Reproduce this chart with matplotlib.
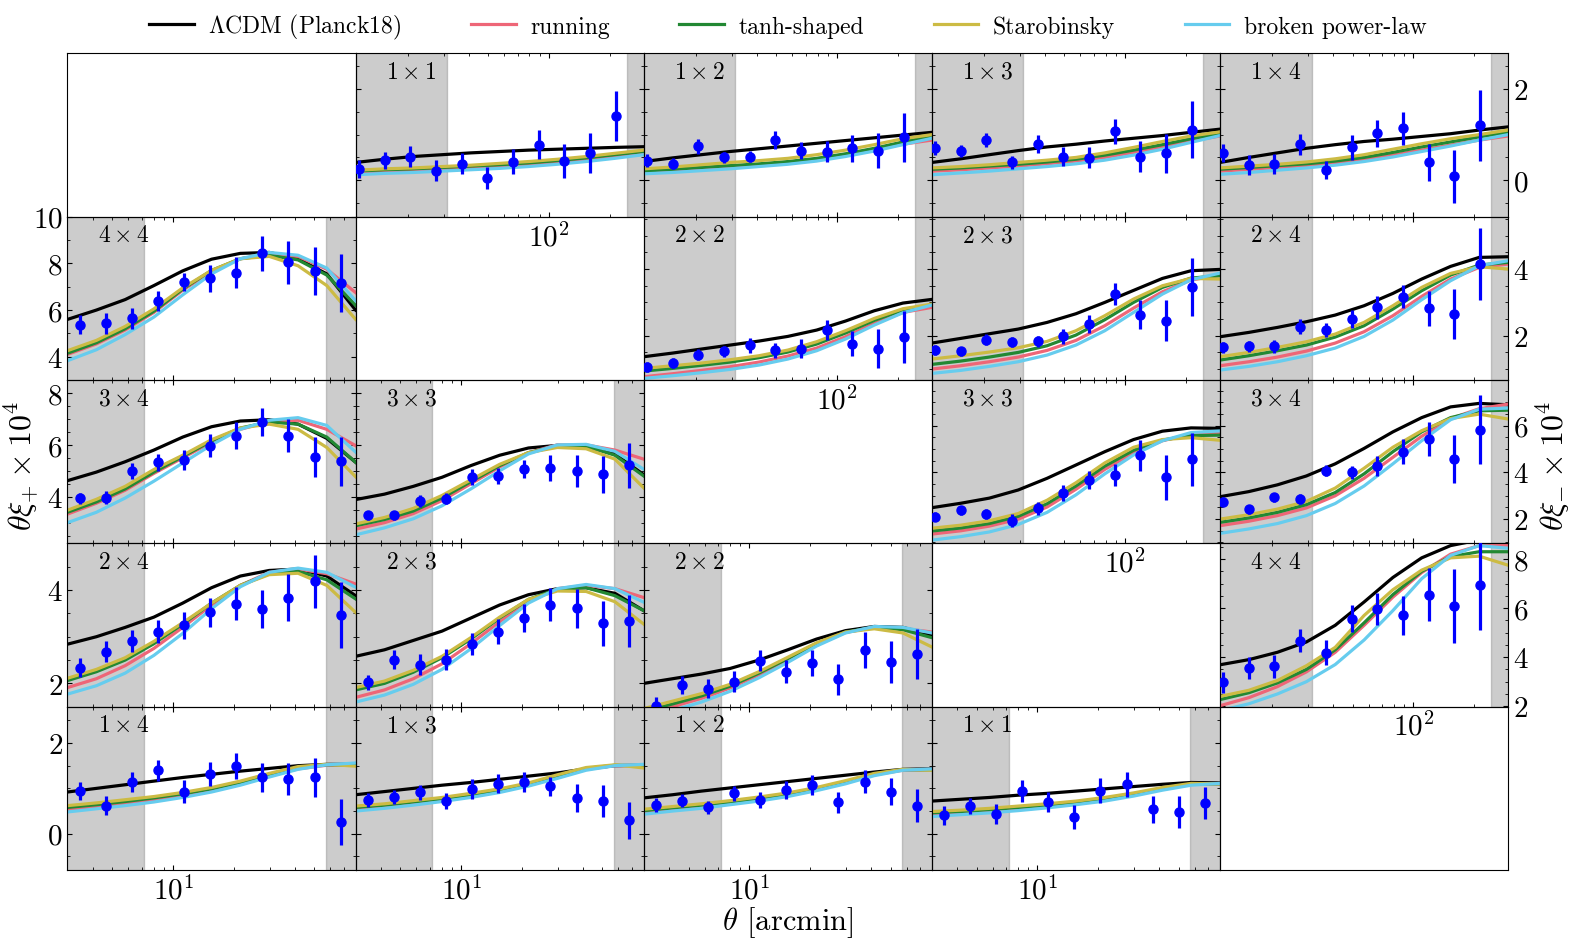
import matplotlib
matplotlib.use("Agg")
import matplotlib.pyplot as plt
from matplotlib.ticker import MultipleLocator

plt.rcParams['font.family'] = 'serif'
plt.rcParams['font.serif'] = ['cmr10']
plt.rcParams['mathtext.fontset'] = 'cm'
plt.rcParams['axes.formatter.use_mathtext'] = True

# angular bins of the data points (arcmin)
theta_p = [3.45, 4.64, 6.25, 8.41, 11.3, 15.2, 20.5, 27.6, 37.2, 50.1, 67.4]
theta_m = [11.4, 15.3, 20.5, 27.5, 36.9, 49.4, 66.3, 88.9, 119, 160, 215]
grid_p = [3.0, 4.17, 5.79, 8.03, 11.15, 15.49, 21.5, 29.9, 41.5, 57.6, 80.0]
grid_m = [11.0, 15.3, 21.2, 29.5, 41.0, 57.0, 79.2, 110, 153, 212, 295]

xlim_p = (3.0, 80.0)
xlim_m = (11.0, 295.0)
cut_p = (7.2, 57.0)   # unshaded range xi+
cut_m = (31.3, 243.0)  # unshaded range xi-

model_names = [r'$\Lambda$CDM (Planck18)', 'running', 'tanh-shaped', 'Starobinsky', 'broken power-law']
model_colors = ['black', '#EE6677', '#228833', '#CCBB44', '#66CCEE']

# ---- xi_minus, row 0 ----
m11_xi = [0.24, 0.44, 0.52, 0.21, 0.36, 0.04, 0.41, 0.78, 0.43, 0.59, 1.41]
m11_err = [0.2, 0.19, 0.24, 0.23, 0.23, 0.24, 0.28, 0.32, 0.37, 0.44, 0.55]
m11_lcdm = [0.39, 0.46, 0.52, 0.56, 0.6, 0.63, 0.66, 0.68, 0.7, 0.72, 0.735]
m11_run = [0.17, 0.2, 0.22, 0.25, 0.28, 0.31, 0.35, 0.4, 0.45, 0.52, 0.6]
m11_tanh = [0.2, 0.23, 0.25, 0.28, 0.31, 0.34, 0.38, 0.43, 0.49, 0.56, 0.63]
m11_star = [0.22, 0.25, 0.27, 0.3, 0.33, 0.37, 0.41, 0.46, 0.52, 0.59, 0.66]
m11_bpl = [0.12, 0.15, 0.17, 0.2, 0.23, 0.26, 0.3, 0.35, 0.41, 0.48, 0.56]

m12_xi = [0.43, 0.36, 0.74, 0.5, 0.52, 0.89, 0.65, 0.63, 0.7, 0.65, 0.94]
m12_err = [0.15, 0.12, 0.17, 0.13, 0.13, 0.2, 0.19, 0.22, 0.29, 0.39, 0.53]
m12_lcdm = [0.41, 0.49, 0.56, 0.63, 0.69, 0.75, 0.81, 0.87, 0.93, 0.99, 1.05]
m12_run = [0.18, 0.21, 0.25, 0.29, 0.33, 0.38, 0.45, 0.55, 0.67, 0.79, 0.88]
m12_tanh = [0.2, 0.24, 0.28, 0.32, 0.36, 0.41, 0.48, 0.58, 0.7, 0.84, 0.96]
m12_star = [0.25, 0.29, 0.34, 0.39, 0.43, 0.48, 0.56, 0.66, 0.78, 0.91, 1.0]
m12_bpl = [0.14, 0.17, 0.21, 0.25, 0.3, 0.35, 0.42, 0.52, 0.64, 0.78, 0.92]

m13_xi = [0.71, 0.65, 0.88, 0.39, 0.79, 0.52, 0.49, 1.07, 0.52, 0.59, 1.11]
m13_err = [0.15, 0.13, 0.15, 0.15, 0.2, 0.2, 0.23, 0.27, 0.34, 0.43, 0.62]
m13_lcdm = [0.39, 0.47, 0.56, 0.65, 0.73, 0.79, 0.86, 0.92, 0.98, 1.05, 1.12]
m13_run = [0.2, 0.23, 0.27, 0.31, 0.36, 0.42, 0.5, 0.61, 0.73, 0.86, 0.97]
m13_tanh = [0.24, 0.27, 0.31, 0.35, 0.4, 0.46, 0.55, 0.66, 0.78, 0.91, 1.02]
m13_star = [0.27, 0.3, 0.34, 0.39, 0.44, 0.5, 0.6, 0.72, 0.85, 0.97, 1.06]
m13_bpl = [0.12, 0.16, 0.2, 0.25, 0.3, 0.36, 0.44, 0.55, 0.68, 0.83, 0.98]

m14_xi = [0.59, 0.34, 0.36, 0.79, 0.23, 0.72, 1.03, 1.14, 0.39, 0.09, 1.2]
m14_err = [0.2, 0.22, 0.22, 0.23, 0.2, 0.27, 0.3, 0.36, 0.41, 0.58, 0.78]
m14_lcdm = [0.39, 0.5, 0.6, 0.7, 0.78, 0.85, 0.9, 0.96, 1.02, 1.1, 1.17]
m14_run = [0.2, 0.24, 0.28, 0.32, 0.38, 0.45, 0.55, 0.66, 0.77, 0.88, 0.97]
m14_tanh = [0.24, 0.28, 0.32, 0.36, 0.42, 0.5, 0.61, 0.73, 0.84, 0.95, 1.05]
m14_star = [0.27, 0.31, 0.35, 0.4, 0.47, 0.56, 0.68, 0.8, 0.91, 1.0, 1.1]
m14_bpl = [0.13, 0.17, 0.22, 0.27, 0.33, 0.41, 0.51, 0.63, 0.75, 0.88, 1.0]

# ---- row 1 ----
p44_xi = [5.37, 5.43, 5.64, 6.4, 7.2, 7.36, 7.61, 8.44, 8.04, 7.69, 7.16]
p44_err = [0.4, 0.45, 0.43, 0.43, 0.4, 0.58, 0.68, 0.75, 0.91, 1.03, 1.25]
p44_lcdm = [5.6, 6.0, 6.45, 7.05, 7.68, 8.18, 8.43, 8.47, 8.2, 7.55, 6.0]
p44_run = [4.1, 4.55, 5.15, 5.9, 6.85, 7.65, 8.2, 8.4, 8.3, 7.75, 6.75]
p44_tanh = [4.15, 4.6, 5.2, 5.95, 6.9, 7.7, 8.2, 8.35, 8.15, 7.5, 6.2]
p44_star = [4.26, 4.7, 5.3, 6.05, 6.95, 7.7, 8.2, 8.3, 7.9, 7.05, 5.6]
p44_bpl = [3.83, 4.3, 4.95, 5.7, 6.65, 7.55, 8.2, 8.47, 8.35, 7.8, 6.4]

m22_xi = [1.07, 1.17, 1.43, 1.53, 1.71, 1.56, 1.61, 2.18, 1.76, 1.61, 1.96]
m22_err = [0.15, 0.15, 0.17, 0.17, 0.23, 0.22, 0.28, 0.3, 0.38, 0.58, 0.77]
m22_lcdm = [1.37, 1.48, 1.6, 1.72, 1.84, 1.98, 2.17, 2.44, 2.75, 2.98, 3.09]
m22_run = [0.77, 0.86, 0.96, 1.07, 1.21, 1.39, 1.63, 1.97, 2.37, 2.7, 2.85]
m22_tanh = [0.94, 1.02, 1.11, 1.21, 1.34, 1.51, 1.75, 2.08, 2.46, 2.77, 2.93]
m22_star = [1.02, 1.1, 1.18, 1.28, 1.4, 1.57, 1.82, 2.15, 2.52, 2.81, 2.95]
m22_bpl = [0.72, 0.8, 0.89, 0.99, 1.12, 1.3, 1.55, 1.9, 2.32, 2.69, 2.92]

m23_xi = [1.58, 1.53, 1.88, 1.81, 1.83, 1.98, 2.35, 3.24, 2.63, 2.45, 3.46]
m23_err = [0.15, 0.13, 0.17, 0.15, 0.17, 0.22, 0.28, 0.33, 0.43, 0.62, 0.88]
m23_lcdm = [1.78, 1.92, 2.06, 2.2, 2.4, 2.66, 3.0, 3.36, 3.72, 3.95, 3.99]
m23_run = [1.0, 1.1, 1.22, 1.36, 1.56, 1.86, 2.3, 2.83, 3.32, 3.67, 3.82]
m23_tanh = [1.14, 1.24, 1.36, 1.5, 1.7, 2.02, 2.48, 3.0, 3.45, 3.73, 3.8]
m23_star = [1.3, 1.4, 1.51, 1.64, 1.83, 2.15, 2.6, 3.1, 3.5, 3.72, 3.7]
m23_bpl = [0.87, 0.96, 1.08, 1.22, 1.42, 1.72, 2.15, 2.7, 3.25, 3.68, 3.88]

m24_xi = [1.65, 1.68, 1.68, 2.27, 2.17, 2.5, 2.85, 3.17, 2.82, 2.65, 4.15]
m24_err = [0.17, 0.17, 0.2, 0.22, 0.22, 0.27, 0.35, 0.35, 0.53, 0.76, 1.07]
m24_lcdm = [1.97, 2.1, 2.25, 2.42, 2.62, 2.9, 3.27, 3.7, 4.08, 4.35, 4.37]
m24_run = [1.1, 1.22, 1.36, 1.54, 1.78, 2.12, 2.6, 3.18, 3.7, 4.05, 4.15]
m24_tanh = [1.27, 1.4, 1.55, 1.72, 1.96, 2.3, 2.8, 3.35, 3.82, 4.12, 4.2]
m24_star = [1.37, 1.5, 1.65, 1.82, 2.05, 2.4, 2.9, 3.45, 3.87, 4.07, 4.0]
m24_bpl = [0.97, 1.08, 1.22, 1.4, 1.63, 1.98, 2.47, 3.08, 3.65, 4.1, 4.25]

# ---- row 2 ----
p34_xi = [3.94, 3.97, 5.0, 5.33, 5.42, 5.97, 6.36, 6.88, 6.36, 5.52, 5.37]
p34_err = [0.22, 0.26, 0.32, 0.32, 0.39, 0.45, 0.52, 0.55, 0.65, 0.77, 0.94]
p34_lcdm = [4.62, 4.95, 5.35, 5.8, 6.3, 6.7, 6.92, 6.97, 6.8, 6.25, 5.33]
p34_run = [3.33, 3.75, 4.25, 4.9, 5.5, 6.1, 6.6, 6.9, 6.95, 6.6, 5.97]
p34_tanh = [3.4, 3.8, 4.3, 4.95, 5.55, 6.15, 6.65, 6.88, 6.8, 6.3, 5.33]
p34_star = [3.48, 3.9, 4.4, 5.05, 5.6, 6.2, 6.65, 6.8, 6.6, 5.9, 4.77]
p34_bpl = [3.0, 3.4, 3.95, 4.6, 5.3, 6.0, 6.6, 6.95, 7.05, 6.75, 5.72]

p33_xi = [3.28, 3.29, 3.85, 3.93, 4.77, 4.8, 5.08, 5.11, 4.99, 4.86, 5.21]
p33_err = [0.17, 0.17, 0.23, 0.2, 0.3, 0.3, 0.35, 0.5, 0.61, 0.71, 0.86]
p33_lcdm = [3.89, 4.1, 4.4, 4.75, 5.2, 5.6, 5.88, 5.98, 5.93, 5.65, 4.85]
p33_run = [2.75, 3.0, 3.35, 3.85, 4.5, 5.15, 5.7, 6.0, 6.0, 5.8, 5.45]
p33_tanh = [2.88, 3.12, 3.45, 3.95, 4.58, 5.2, 5.7, 5.95, 5.95, 5.6, 4.8]
p33_star = [2.95, 3.2, 3.55, 4.05, 4.65, 5.25, 5.7, 5.9, 5.85, 5.45, 4.34]
p33_bpl = [2.53, 2.8, 3.15, 3.65, 4.3, 5.0, 5.65, 6.0, 6.02, 5.75, 5.06]

m33_xi = [2.10, 2.36, 2.20, 1.92, 2.46, 3.11, 3.66, 3.87, 4.72, 3.78, 4.55]
m33_err = [0.19, 0.19, 0.21, 0.28, 0.28, 0.34, 0.38, 0.47, 0.66, 0.95, 1.13]
m33_lcdm = [2.48, 2.67, 2.89, 3.24, 3.74, 4.31, 4.88, 5.40, 5.76, 5.90, 5.88]
m33_run = [1.35, 1.49, 1.69, 1.99, 2.51, 3.27, 4.12, 4.83, 5.35, 5.63, 5.69]
m33_tanh = [1.48, 1.61, 1.80, 2.11, 2.65, 3.41, 4.26, 4.94, 5.38, 5.57, 5.59]
m33_star = [1.60, 1.73, 1.92, 2.23, 2.80, 3.55, 4.40, 5.07, 5.40, 5.48, 5.37]
m33_bpl = [1.09, 1.24, 1.44, 1.76, 2.28, 3.03, 3.93, 4.74, 5.35, 5.70, 5.77]

m34_xi = [2.74, 2.42, 2.92, 2.85, 4.06, 4.0, 4.28, 4.88, 5.43, 4.57, 5.82]
m34_err = [0.19, 0.19, 0.21, 0.21, 0.24, 0.28, 0.43, 0.54, 0.72, 1.02, 1.47]
m34_lcdm = [2.95, 3.17, 3.46, 3.84, 4.36, 5.02, 5.73, 6.34, 6.80, 6.95, 6.89]
m34_run = [1.71, 1.90, 2.14, 2.47, 2.99, 3.74, 4.64, 5.54, 6.30, 6.72, 6.92]
m34_tanh = [1.85, 2.04, 2.28, 2.61, 3.13, 3.93, 4.88, 5.73, 6.34, 6.63, 6.66]
m34_star = [1.99, 2.18, 2.42, 2.75, 3.32, 4.17, 5.07, 5.78, 6.30, 6.49, 6.28]
m34_bpl = [1.38, 1.57, 1.80, 2.14, 2.66, 3.41, 4.36, 5.35, 6.25, 6.70, 6.75]

# ---- row 3 ----
p24_xi = [2.34, 2.68, 2.91, 3.11, 3.25, 3.52, 3.71, 3.6, 3.84, 4.19, 3.46]
p24_err = [0.21, 0.22, 0.23, 0.24, 0.29, 0.31, 0.36, 0.41, 0.51, 0.57, 0.71]
p24_lcdm = [2.84, 3.0, 3.2, 3.42, 3.72, 4.05, 4.3, 4.42, 4.45, 4.3, 3.88]
p24_run = [1.91, 2.1, 2.38, 2.75, 3.2, 3.68, 4.1, 4.38, 4.45, 4.35, 4.13]
p24_tanh = [2.06, 2.25, 2.5, 2.85, 3.27, 3.72, 4.1, 4.35, 4.4, 4.22, 3.81]
p24_star = [2.11, 2.3, 2.55, 2.9, 3.3, 3.72, 4.1, 4.33, 4.36, 4.1, 3.52]
p24_bpl = [1.77, 1.95, 2.22, 2.6, 3.07, 3.6, 4.07, 4.38, 4.47, 4.38, 4.06]

p23_xi = [2.02, 2.51, 2.4, 2.51, 2.84, 3.11, 3.41, 3.69, 3.61, 3.29, 3.34]
p23_err = [0.17, 0.2, 0.22, 0.22, 0.23, 0.27, 0.3, 0.35, 0.42, 0.48, 0.55]
p23_lcdm = [2.58, 2.72, 2.92, 3.12, 3.4, 3.68, 3.9, 4.03, 4.05, 3.93, 3.56]
p23_run = [1.7, 1.86, 2.1, 2.42, 2.85, 3.32, 3.75, 4.03, 4.1, 4.03, 3.84]
p23_tanh = [1.86, 2.0, 2.24, 2.55, 2.95, 3.4, 3.8, 4.02, 4.05, 3.88, 3.56]
p23_star = [1.91, 2.05, 2.28, 2.58, 2.98, 3.42, 3.8, 3.98, 3.97, 3.75, 3.27]
p23_bpl = [1.6, 1.75, 1.98, 2.3, 2.74, 3.24, 3.72, 4.03, 4.12, 4.03, 3.74]

p22_xi = [1.52, 1.97, 1.89, 2.04, 2.49, 2.25, 2.43, 2.09, 2.72, 2.45, 2.63]
p22_err = [0.18, 0.19, 0.2, 0.22, 0.22, 0.25, 0.28, 0.33, 0.38, 0.45, 0.53]
p22_lcdm = [2.0, 2.1, 2.2, 2.32, 2.5, 2.72, 2.95, 3.13, 3.22, 3.2, 3.03]
p22_run = [1.34, 1.5, 1.68, 1.9, 2.18, 2.5, 2.83, 3.09, 3.2, 3.18, 3.1]
p22_tanh = [1.4, 1.56, 1.73, 1.94, 2.22, 2.53, 2.85, 3.1, 3.2, 3.15, 2.98]
p22_star = [1.46, 1.62, 1.78, 1.98, 2.25, 2.56, 2.87, 3.1, 3.17, 3.08, 2.78]
p22_bpl = [1.27, 1.42, 1.6, 1.83, 2.12, 2.45, 2.8, 3.08, 3.22, 3.2, 3.08]

m44_xi = [2.98, 3.55, 3.62, 4.68, 4.18, 5.57, 5.95, 5.71, 6.55, 6.08, 6.93]
m44_err = [0.43, 0.46, 0.45, 0.46, 0.51, 0.55, 0.65, 0.8, 1.09, 1.5, 1.82]
m44_lcdm = [3.69, 3.9, 4.2, 4.62, 5.3, 6.25, 7.25, 8.05, 8.55, 8.78, 8.8]
m44_run = [2.02, 2.35, 2.8, 3.4, 4.2, 5.3, 6.45, 7.45, 8.2, 8.55, 8.57]
m44_tanh = [2.27, 2.55, 2.95, 3.5, 4.3, 5.4, 6.55, 7.5, 8.1, 8.3, 8.3]
m44_star = [2.4, 2.65, 3.05, 3.65, 4.4, 5.7, 6.75, 7.55, 8.05, 8.12, 7.75]
m44_bpl = [1.82, 2.1, 2.5, 3.0, 3.7, 4.7, 5.9, 7.2, 8.15, 8.55, 8.44]

# ---- row 4 ----
p14_xi = [0.94, 0.62, 1.14, 1.4, 0.93, 1.32, 1.49, 1.24, 1.21, 1.25, 0.26]
p14_err = [0.2, 0.21, 0.22, 0.23, 0.25, 0.26, 0.29, 0.33, 0.36, 0.43, 0.5]
p14_lcdm = [0.92, 1.0, 1.08, 1.16, 1.24, 1.31, 1.38, 1.44, 1.5, 1.53, 1.53]
p14_run = [0.53, 0.59, 0.66, 0.74, 0.83, 0.95, 1.09, 1.27, 1.43, 1.51, 1.53]
p14_tanh = [0.58, 0.64, 0.71, 0.79, 0.88, 0.99, 1.13, 1.3, 1.46, 1.52, 1.52]
p14_star = [0.62, 0.68, 0.75, 0.82, 0.91, 1.02, 1.16, 1.33, 1.48, 1.53, 1.49]
p14_bpl = [0.48, 0.55, 0.62, 0.7, 0.8, 0.92, 1.07, 1.25, 1.42, 1.52, 1.56]

p13_xi = [0.75, 0.81, 0.91, 0.72, 0.99, 1.1, 1.14, 1.05, 0.79, 0.72, 0.3]
p13_err = [0.15, 0.15, 0.17, 0.18, 0.22, 0.21, 0.23, 0.21, 0.31, 0.35, 0.41]
p13_lcdm = [0.86, 0.93, 1.0, 1.07, 1.13, 1.2, 1.27, 1.34, 1.43, 1.5, 1.51]
p13_run = [0.56, 0.61, 0.68, 0.75, 0.84, 0.94, 1.07, 1.25, 1.42, 1.5, 1.51]
p13_tanh = [0.58, 0.63, 0.7, 0.77, 0.86, 0.96, 1.09, 1.27, 1.44, 1.51, 1.5]
p13_star = [0.61, 0.66, 0.73, 0.8, 0.89, 0.99, 1.12, 1.3, 1.46, 1.52, 1.45]
p13_bpl = [0.5, 0.56, 0.63, 0.71, 0.8, 0.91, 1.05, 1.22, 1.4, 1.5, 1.53]

p12_xi = [0.64, 0.73, 0.58, 0.89, 0.75, 0.97, 1.07, 0.69, 1.15, 0.93, 0.62]
p12_err = [0.15, 0.15, 0.15, 0.17, 0.18, 0.2, 0.22, 0.24, 0.26, 0.3, 0.36]
p12_lcdm = [0.79, 0.86, 0.94, 1.01, 1.08, 1.15, 1.22, 1.29, 1.36, 1.42, 1.43]
p12_run = [0.48, 0.54, 0.6, 0.67, 0.75, 0.85, 0.97, 1.13, 1.3, 1.4, 1.42]
p12_tanh = [0.51, 0.57, 0.63, 0.7, 0.78, 0.88, 1.0, 1.15, 1.32, 1.41, 1.41]
p12_star = [0.54, 0.6, 0.66, 0.73, 0.81, 0.9, 1.02, 1.17, 1.33, 1.42, 1.4]
p12_bpl = [0.43, 0.5, 0.56, 0.64, 0.72, 0.82, 0.95, 1.1, 1.28, 1.4, 1.43]

p11_xi = [0.41, 0.61, 0.43, 0.95, 0.69, 0.37, 0.95, 1.09, 0.54, 0.48, 0.68]
p11_err = [0.21, 0.17, 0.22, 0.24, 0.22, 0.26, 0.27, 0.28, 0.3, 0.35, 0.36]
p11_lcdm = [0.72, 0.76, 0.8, 0.85, 0.89, 0.94, 0.99, 1.04, 1.09, 1.13, 1.12]
p11_run = [0.44, 0.47, 0.51, 0.56, 0.61, 0.68, 0.76, 0.86, 0.99, 1.09, 1.1]
p11_tanh = [0.46, 0.49, 0.53, 0.58, 0.63, 0.7, 0.78, 0.88, 1.0, 1.1, 1.1]
p11_star = [0.49, 0.52, 0.56, 0.61, 0.66, 0.72, 0.8, 0.9, 1.02, 1.11, 1.1]
p11_bpl = [0.38, 0.42, 0.46, 0.51, 0.57, 0.64, 0.72, 0.83, 0.96, 1.07, 1.11]

# y ranges per row (xi+ on the left part, xi- on the right part)
ylim_p = {1: (3.0, 10.0), 2: (2.2, 8.5), 3: (1.5, 5.0), 4: (-0.8, 2.8)}
ylim_m = {0: (-0.8, 2.78), 1: (0.67, 5.57), 2: (0.95, 7.95), 3: (1.98, 8.64)}

layout = [
    [None, 'm11', 'm12', 'm13', 'm14'],
    ['p44', None, 'm22', 'm23', 'm24'],
    ['p34', 'p33', None, 'm33', 'm34'],
    ['p24', 'p23', 'p22', None, 'm44'],
    ['p14', 'p13', 'p12', 'p11', None],
]

g = globals()

fig, axes = plt.subplots(5, 5, figsize=(15.77, 9.53), dpi=100)
fig.subplots_adjust(left=0.0428, right=0.9563, top=0.9429, bottom=0.086,
                    wspace=0, hspace=0)

handles = None
for r in range(5):
    for c in range(5):
        ax = axes[r, c]
        ax.patch.set_facecolor('none')
        tag = layout[r][c]
        if tag is None:
            ax.set_xticks([])
            ax.set_yticks([])
            continue
        kind = tag[0]
        if kind == 'p':
            th, grid, xlim, cut, ylim = theta_p, grid_p, xlim_p, cut_p, ylim_p[r]
        else:
            th, grid, xlim, cut, ylim = theta_m, grid_m, xlim_m, cut_m, ylim_m[r]

        ax.set_xscale('log')
        ax.axvspan(xlim[0], cut[0], color='gray', alpha=0.4, zorder=0)
        ax.axvspan(cut[1], xlim[1], color='gray', alpha=0.4, zorder=0)

        lines = []
        for key, col in zip(['lcdm', 'run', 'tanh', 'star', 'bpl'], model_colors):
            ln, = ax.plot(grid, g[tag + '_' + key], color=col, lw=2.3, zorder=2)
            lines.append(ln)
        if handles is None:
            handles = lines

        ax.errorbar(th, g[tag + '_xi'], yerr=g[tag + '_err'], fmt='o', color='blue',
                    ms=6.5, elinewidth=2.3, capsize=0, zorder=4)

        ax.text(0.105, 0.955, r'$%s\times%s$' % (tag[1], tag[2]), transform=ax.transAxes,
                fontsize=17, va='top', ha='left', zorder=6)

        ax.set_xlim(xlim)
        ax.set_ylim(ylim)
        ax.yaxis.set_major_locator(MultipleLocator(2))
        ax.yaxis.set_minor_locator(MultipleLocator(1.0 if (kind == 'p' and r == 1) else 0.5))

        show_x = (kind == 'p' and r == 4) or (kind == 'm' and c == r + 1)
        ax.tick_params(which='both', direction='in', top=True, right=True,
                       labelsize=21, labelbottom=show_x,
                       labelleft=(kind == 'p' and c == 0),
                       labelright=(kind == 'm' and c == 4))

fig.legend(handles, model_names, loc='center', bbox_to_anchor=(0.4995, 0.971),
           ncol=5, frameon=False, fontsize=17, handlelength=1.9,
           handletextpad=0.6, columnspacing=2.95)

fig.text(0.0135, 0.511, r'$\theta\xi_{+}\times10^{4}$', rotation=90,
         ha='center', va='center', fontsize=23)
fig.text(0.985, 0.511, r'$\theta\xi_{-}\times10^{4}$', rotation=90,
         ha='center', va='center', fontsize=23)
fig.text(0.4995, 0.032, r'$\theta$ [arcmin]', ha='center', va='center', fontsize=22)

fig.savefig('out.png', dpi=100)
